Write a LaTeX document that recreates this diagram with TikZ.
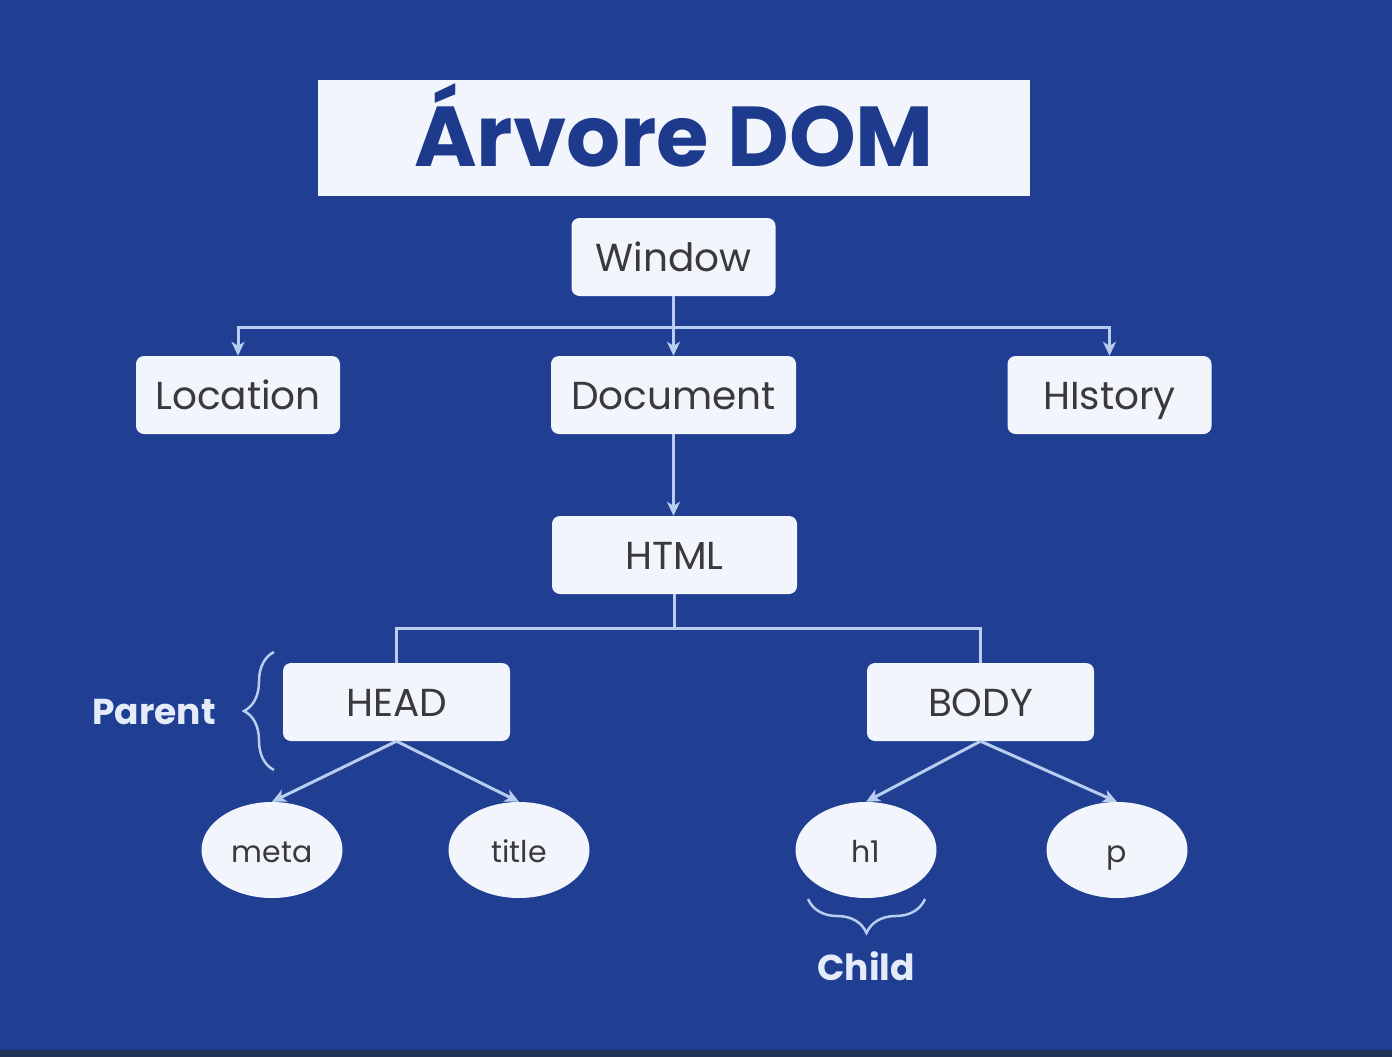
\documentclass[tikz,border=0pt]{standalone}
\usepackage{fontspec}
\setmainfont{Poppins}
\usetikzlibrary{arrows.meta,shapes.geometric,decorations.pathreplacing}

\definecolor{fundo}{HTML}{203F92}
\definecolor{rodape}{HTML}{233358}
\definecolor{caixacor}{HTML}{F2F5FB}
\definecolor{textocor}{HTML}{3A3A3E}
\definecolor{titulocor}{HTML}{1E3A8C}
\definecolor{linhacor}{HTML}{B8CDEF}
\definecolor{rotulocor}{HTML}{E4ECFA}

\begin{document}
\begin{tikzpicture}[x=1pt,y=-1pt,
  caixa/.style = {fill=caixacor,rounded corners=8pt,inner sep=2pt,
                  minimum width=204pt,minimum height=78pt,text=textocor,
                  text height=29pt,text depth=0pt,
                  font=\fontsize{39}{44}\selectfont},
  folha/.style = {ellipse,fill=caixacor,inner sep=1pt,
                  minimum width=141pt,minimum height=96pt,text=textocor,
                  text height=24pt,text depth=0pt,
                  font=\fontsize{30}{34}\selectfont},
  rotulo/.style = {text=rotulocor,font=\fontsize{36}{40}\selectfont\bfseries},
  liga/.style = {draw=linhacor,line width=3pt},
  seta/.style = {liga,-{Stealth[length=14pt,width=13pt,inset=4pt]}},
  chave/.style = {draw=linhacor,line width=2.5pt,decorate}]

\fill[fundo] (0,0) rectangle (1392,1050);
\fill[rodape] (0,1050) rectangle (1392,1057);
\useasboundingbox (0,0) rectangle (1392,1057);

\node[fill=caixacor,minimum width=712pt,minimum height=116pt,text=titulocor,
  text height=56pt,text depth=0pt,
  font=\fontsize{85}{90}\selectfont\bfseries] (titulo) at (674,138) {Árvore DOM};

\node[caixa] (window) at (673.5,257) {Window};

\node[caixa] (location) at (238,395) {Location};
\node[caixa,minimum width=245pt] (document) at (673.5,395) {Document};
\node[caixa] (history) at (1109.5,395) {HIstory};

\node[caixa,minimum width=245pt] (html) at (674.5,555) {HTML};

\node[caixa,minimum width=227pt] (head) at (396.5,702) {HEAD};
\node[caixa,minimum width=227pt] (body) at (980.5,702) {BODY};

\node[folha] (meta) at (272,850) {meta};
\node[folha] (title) at (519,850) {title};
\node[folha] (h1) at (866,850) {h1};
\node[folha] (p) at (1117,850) {p};

\node[rotulo] (parent) at (154,712) {Parent};
\node[rotulo] (child) at (866,966) {Child};

% ramos
\coordinate (ramo1) at (673.5,327);
\coordinate (ramo2) at (674.5,628);

\draw[liga] (window.south) -- (ramo1);
\draw[seta] (ramo1) -| (location.north);
\draw[seta] (ramo1) -- (document.north);
\draw[seta] (ramo1) -| (history.north);

\draw[seta] (document.south) -- (document.south |- html.north);

\draw[liga] (html.south) -- (ramo2) -| (head.north);
\draw[liga] (ramo2) -| (body.north);

\draw[seta] (head.south) -- (meta.north);
\draw[seta] (head.south) -- (title.north);
\draw[seta] (body.south) -- (h1.north);
\draw[seta] (body.south) -- (p.north);

% chaves
\draw[chave,decoration={brace,amplitude=30pt}] (274,770) -- (274,652);
\draw[chave,decoration={brace,amplitude=34pt}] (925,899) -- (808,899);
\end{tikzpicture}
\end{document}
